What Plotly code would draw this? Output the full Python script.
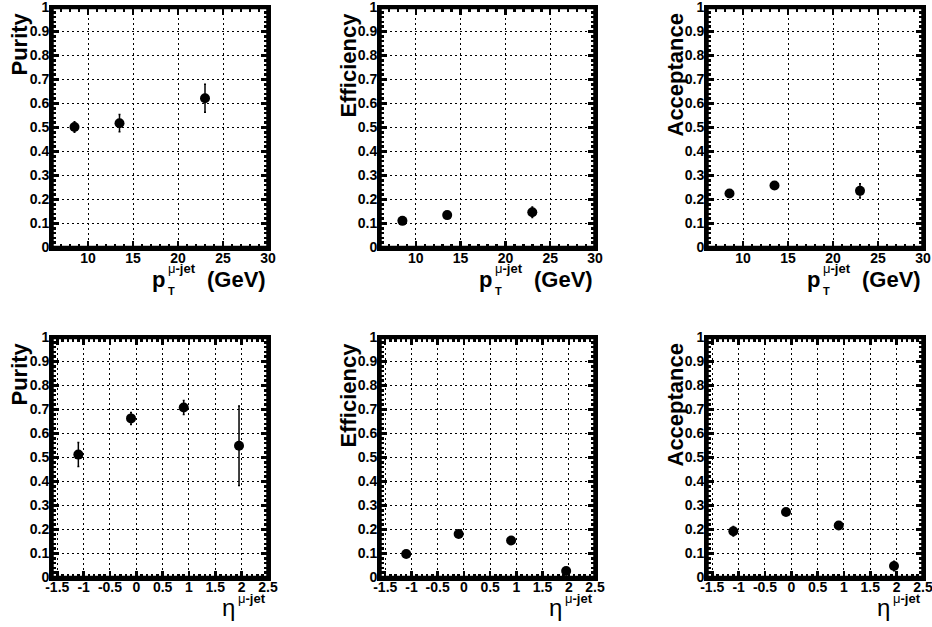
import plotly.graph_objects as go

# ---------------- data ----------------
pt_centers = [8.5, 13.5, 23.0]
purity_pt = [0.502, 0.518, 0.622]
purity_pt_err = [0.022, 0.036, 0.058]
eff_pt = [0.111, 0.135, 0.147]
eff_pt_err = [0.008, 0.010, 0.022]
acc_pt = [0.225, 0.258, 0.236]
acc_pt_err = [0.010, 0.014, 0.030]

eta_centers = [-1.1, -0.1, 0.9, 1.95]
purity_eta = [0.512, 0.663, 0.708, 0.549]
purity_eta_err = [0.050, 0.025, 0.029, 0.166]
eff_eta = [0.098, 0.181, 0.154, 0.027]
eff_eta_err = [0.008, 0.008, 0.008, 0.010]
acc_eta = [0.193, 0.273, 0.217, 0.048]
acc_eta_err = [0.020, 0.010, 0.010, 0.020]

y_titles = ["Purity", "Efficiency", "Acceptance"]
pt_range = [6, 30]
eta_range = [-1.6, 2.5]
pt_ticks = [10, 15, 20, 25, 30]
pt_ticklabels = ["10", "15", "20", "25", "30"]
eta_ticks = [-1.5, -1, -0.5, 0, 0.5, 1, 1.5, 2, 2.5]
eta_ticklabels = ["-1.5", "-1", "-0.5", "0", "0.5", "1", "1.5", "2", "2.5"]
y_ticks = [0, 0.1, 0.2, 0.3, 0.4, 0.5, 0.6, 0.7, 0.8, 0.9, 1]
y_ticklabels = ["0", "0.1", "0.2", "0.3", "0.4", "0.5", "0.6", "0.7", "0.8", "0.9", "1"]

W, H = 932, 627
FONT = "Liberation Sans, Arial, Helvetica, sans-serif"


def px(x):
    return x / W


def py(y):
    return 1 - y / H


def bold(labels):
    return ["<b>%s</b>" % s for s in labels]


col_px = [(52, 268), (380, 595), (707, 923)]
row_px = [(7.5, 247.5), (337.5, 577.5)]

panels = [
    (0, 0, pt_centers, purity_pt, purity_pt_err),
    (0, 1, pt_centers, eff_pt, eff_pt_err),
    (0, 2, pt_centers, acc_pt, acc_pt_err),
    (1, 0, eta_centers, purity_eta, purity_eta_err),
    (1, 1, eta_centers, eff_eta, eff_eta_err),
    (1, 2, eta_centers, acc_eta, acc_eta_err),
]

fig = go.Figure()
layout = dict(
    template="none",
    width=W, height=H,
    margin=dict(l=0, r=0, t=0, b=0, pad=0, autoexpand=False),
    paper_bgcolor="white", plot_bgcolor="white",
    showlegend=False,
    font=dict(family=FONT, color="black"),
)
annotations = []
shapes = []

for i, (r, c, xs, ys, es) in enumerate(panels):
    n = i + 1
    xname = "xaxis" if n == 1 else f"xaxis{n}"
    yname = "yaxis" if n == 1 else f"yaxis{n}"
    xref = "x" if n == 1 else f"x{n}"
    yref = "y" if n == 1 else f"y{n}"
    fig.add_trace(go.Scatter(
        x=xs, y=ys, mode="markers", xaxis=xref, yaxis=yref,
        marker=dict(color="black", size=10, symbol="circle"),
        error_y=dict(type="data", array=es, visible=True, color="black",
                     thickness=1.5, width=1),
        cliponaxis=False,
    ))
    x0, x1 = col_px[c]
    y0, y1 = row_px[r]
    common = dict(
        automargin=False,
        showline=True, linewidth=3, linecolor="black", mirror="allticks",
        ticks="inside", ticklen=7, tickwidth=2.5, tickcolor="black",
        showgrid=True, gridcolor="black", gridwidth=1, griddash="2px,3px",
        zeroline=False, fixedrange=True,
        ticklabeloverflow="allow",
        tickfont=dict(family=FONT, size=14, color="black"),
    )
    if r == 0:
        xax = dict(common, range=pt_range, tickmode="array", tickvals=pt_ticks,
                   ticktext=bold(pt_ticklabels), ticklabelstandoff=-4,
                   minor=dict(dtick=1, tick0=0, ticks="inside", ticklen=4, tickwidth=2.5,
                              tickcolor="black", showgrid=False))
    else:
        xax = dict(common, range=eta_range, tickmode="array", tickvals=eta_ticks,
                   ticktext=bold(eta_ticklabels), ticklabelstandoff=-5,
                   minor=dict(dtick=0.1, tick0=0, ticks="inside", ticklen=4, tickwidth=2.5,
                              tickcolor="black", showgrid=False))
    xax.update(domain=[px(x0), px(x1)], anchor=yref)
    yax = dict(common, range=[0, 1], tickmode="array", tickvals=y_ticks,
               ticktext=bold(y_ticklabels), ticklabelstandoff=-3,
               minor=dict(dtick=0.02, tick0=0, ticks="inside", ticklen=4, tickwidth=2.5,
                          tickcolor="black", showgrid=False))
    yax.update(domain=[py(y1), py(y0)], anchor=xref)
    layout[xname] = xax
    layout[yname] = yax

    # thick frame (paper coordinates, not clipped)
    shapes.append(dict(type="rect", xref="paper", yref="paper",
                       x0=px(x0), x1=px(x1), y0=py(y1), y1=py(y0),
                       line=dict(color="black", width=3.5), fillcolor="rgba(0,0,0,0)",
                       layer="above"))

    # y title
    ytx = {0: 18.5, 1: 347.5, 2: 675.0}[c]
    annotations.append(dict(
        xref="paper", yref="paper", x=px(ytx), y=py(y0 + 3),
        xanchor="center", yanchor="top", textangle=-90, showarrow=False,
        text="<b>%s</b>" % y_titles[c],
        font=dict(family=FONT, size=22, color="black"),
    ))

    R = x1
    if r == 0:
        annotations += [
            dict(xref="paper", yref="paper", x=px(R), y=py(279), xanchor="right",
                 yanchor="middle", showarrow=False, text="<b>(GeV)</b>",
                 font=dict(family=FONT, size=22, color="black")),
            dict(xref="paper", yref="paper", x=px(R - 101), y=py(279), xanchor="right",
                 yanchor="middle", showarrow=False, text="<b>p</b>",
                 font=dict(family=FONT, size=22, color="black")),
            dict(xref="paper", yref="paper", x=px(R - 102), y=py(291), xanchor="left",
                 yanchor="middle", showarrow=False, text="<b>T</b>",
                 font=dict(family=FONT, size=11, color="black")),
            dict(xref="paper", yref="paper", x=px(R - 102), y=py(268.5), xanchor="left",
                 yanchor="middle", showarrow=False, text="μ<b>-jet</b>",
                 font=dict(family=FONT, size=13, color="black")),
        ]
    else:
        annotations += [
            dict(xref="paper", yref="paper", x=px(R - 31), y=py(607), xanchor="right",
                 yanchor="middle", showarrow=False, text="η",
                 font=dict(family=FONT, size=24, color="black")),
            dict(xref="paper", yref="paper", x=px(R - 32), y=py(598.5), xanchor="left",
                 yanchor="middle", showarrow=False, text="μ<b>-jet</b>",
                 font=dict(family=FONT, size=13, color="black")),
        ]

layout["annotations"] = annotations
layout["shapes"] = shapes
fig.update_layout(**layout)
fig.write_html(
    "out.html",
    config={"displayModeBar": False, "staticPlot": True},
    post_script="document.body.style.margin='0';document.body.style.overflow='hidden';",
)
